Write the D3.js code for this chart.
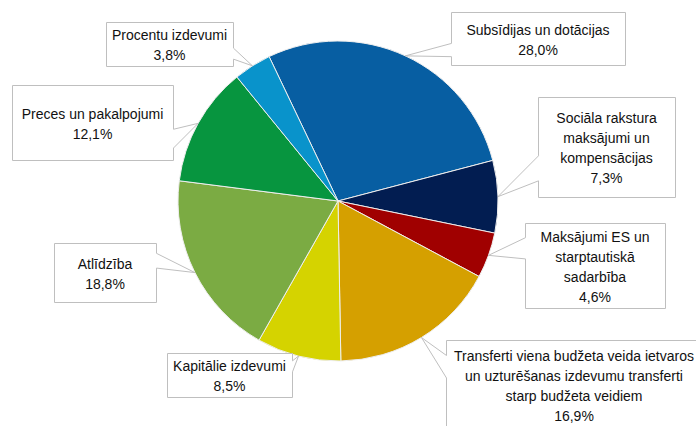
<!DOCTYPE html>
<html>
<head>
<meta charset="utf-8">
<script src="https://cdn.jsdelivr.net/npm/d3@7"></script>
<style>
  body { margin: 0; background: #fff; }
  .chart { width: 696px; height: 426px; }
  text { font-family: "Liberation Sans", Arial, sans-serif; font-size: 14px; fill: #111; }
</style>
</head>
<body>
<div class="chart"></div>
<script>
// slices, clockwise from the first one
const categories = ['Subsīdijas un dotācijas', 'Sociāla rakstura maksājumi un kompensācijas',
  'Maksājumi ES un starptautiskā sadarbība',
  'Transferti viena budžeta veida ietvaros un uzturēšanas izdevumu transferti starp budžeta veidiem',
  'Kapitālie izdevumi', 'Atlīdzība', 'Preces un pakalpojumi', 'Procentu izdevumi'];
const shares = [28.0, 7.3, 4.6, 16.9, 8.5, 18.8, 12.1, 3.8];
const colors = ['#075ea2', '#021d51', '#a00000', '#d5a000', '#d5d300', '#7bab43', '#07953f', '#0993cb'];

// how each label is broken into lines
const labelLines = [
  ['Subsīdijas un dotācijas'],
  ['Sociāla rakstura', 'maksājumi un', 'kompensācijas'],
  ['Maksājumi ES un', 'starptautiskā', 'sadarbība'],
  ['Transferti viena budžeta veida ietvaros', 'un uzturēšanas izdevumu transferti', 'starp budžeta veidiem'],
  ['Kapitālie izdevumi'],
  ['Atlīdzība'],
  ['Preces un pakalpojumi'],
  ['Procentu izdevumi']
];

// callout boxes (layout only): x, y, w, h
const boxes = [
  [451, 12, 174, 53],
  [538, 97, 137, 100],
  [525, 223, 140, 85],
  [446, 340, 256, 90],
  [167, 353, 125, 44],
  [54, 243, 102, 59],
  [12, 85, 161, 75],
  [106, 22, 127, 44]
];

const width = d3.select('.chart').node().clientWidth;
const height = d3.select('.chart').node().clientHeight;

const svg = d3.select('.chart').append('svg')
  .attr('width', width)
  .attr('height', height);

const cx = 338, cy = 201, radius = 160;
const start = -25.5 * Math.PI / 180;

const data = categories.map((c, i) => ({ name: c, value: shares[i], color: colors[i], lines: labelLines[i], box: boxes[i] }));

const pie = d3.pie()
  .value(d => d.value)
  .sort(null)
  .startAngle(start)
  .endAngle(start + 2 * Math.PI);

const arc = d3.arc().innerRadius(0).outerRadius(radius);

const arcs = pie(data);

const g = svg.append('g').attr('transform', `translate(${cx},${cy})`);

g.selectAll('path')
  .data(arcs)
  .enter()
  .append('path')
  .attr('d', arc)
  .style('fill', d => d.data.color)
  .style('stroke', '#eeeeee')
  .style('stroke-width', '1px');

const fmt = v => d3.format('.1f')(v).replace('.', ',') + '%';

// wedge-rect callout like the office one
function callout(b, tx, ty) {
  const x = b[0] + 0.5, y = b[1] + 0.5, w = b[2], h = b[3];
  const hc = x + w / 2, vc = y + h / 2;
  const dxPos = tx - hc, dyPos = ty - vc;
  const dx = dxPos * h / w;
  const y1 = y + h * (dyPos > 0 ? 7 : 2) / 12, y2 = y + h * (dyPos > 0 ? 10 : 5) / 12;
  const x1 = x + w * (dxPos > 0 ? 7 : 2) / 12, x2 = x + w * (dxPos > 0 ? 10 : 5) / 12;
  const p = [[x, y]];
  if (Math.abs(dx) <= Math.abs(dyPos) && dyPos < 0) p.push([x1, y], [tx, ty], [x2, y]);
  p.push([x + w, y]);
  if (Math.abs(dx) > Math.abs(dyPos) && dxPos > 0) p.push([x + w, y1], [tx, ty], [x + w, y2]);
  p.push([x + w, y + h]);
  if (Math.abs(dx) <= Math.abs(dyPos) && dyPos > 0) p.push([x2, y + h], [tx, ty], [x1, y + h]);
  p.push([x, y + h]);
  if (Math.abs(dx) > Math.abs(dyPos) && dxPos < 0) p.push([x, y2], [tx, ty], [x, y1]);
  return 'M' + p.map(q => q.join(',')).join('L') + 'Z';
}

const labels = svg.append('g');

arcs.forEach(a => {
  const mid = (a.startAngle + a.endAngle) / 2;
  const tx = cx + radius * Math.sin(mid);
  const ty = cy - radius * Math.cos(mid);
  const b = a.data.box;

  labels.append('path')
    .attr('d', callout(b, tx, ty))
    .style('fill', 'white')
    .style('stroke', '#bfbfbf')
    .style('stroke-width', '1px');

  const lines = a.data.lines.concat([fmt(a.data.value)]);
  const n = lines.length;
  lines.forEach((t, i) => {
    labels.append('text')
      .attr('x', b[0] + b[2] / 2)
      .attr('y', b[1] + b[3] / 2 + 1 + (i - (n - 1) / 2) * 20)
      .attr('text-anchor', 'middle')
      .attr('dominant-baseline', 'central')
      .text(t);
  });
});
</script>
</body>
</html>
